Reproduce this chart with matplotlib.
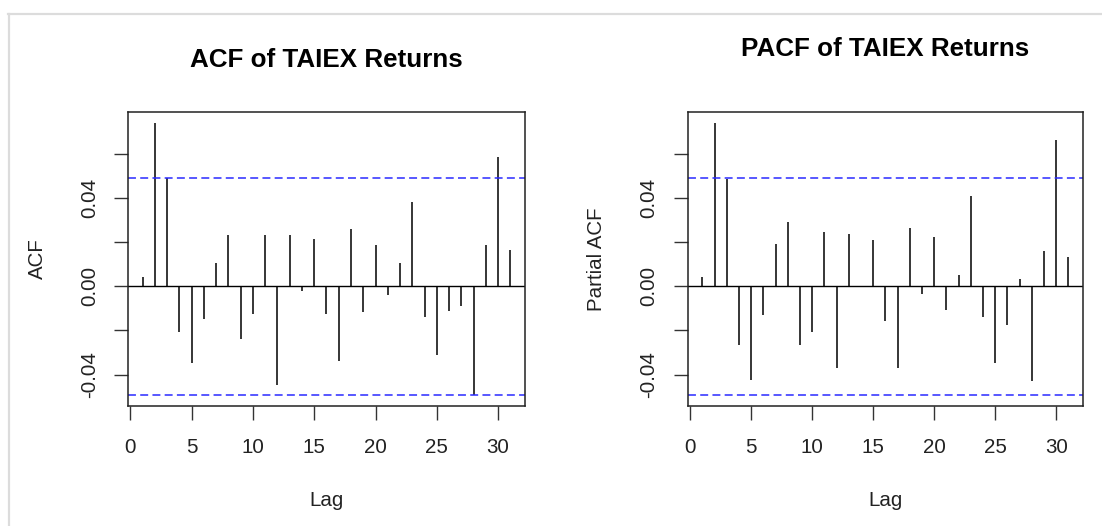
import numpy as np
import matplotlib
matplotlib.use('Agg')
import matplotlib.pyplot as plt
from matplotlib.lines import Line2D

plt.rcParams['font.family'] = ['Liberation Sans', 'DejaVu Sans']

# lags 1..31
lags = list(range(1, 32))

# sample ACF of returns
acf_vals = [0.0044, 0.0741, 0.0493, -0.0208, -0.0349, -0.0146, 0.0105, 0.0235,
            -0.0238, -0.0126, 0.0235, -0.0448, 0.0235, -0.0023, 0.0215, -0.0126,
            -0.0337, 0.0260, -0.0116, 0.0186, -0.0041, 0.0105, 0.0383, -0.0140,
            -0.0313, -0.0110, -0.0090, -0.0493, 0.0186, 0.0585, 0.0167]

# sample PACF
pacf_vals = [0.0044, 0.0741, 0.0487, -0.0268, -0.0423, -0.0132, 0.0192, 0.0290,
             -0.0268, -0.0208, 0.0248, -0.0371, 0.0236, 0.0003, 0.0212, -0.0156,
             -0.0371, 0.0266, -0.0033, 0.0224, -0.0108, 0.0051, 0.0409, -0.0140,
             -0.0347, -0.0176, 0.0032, -0.0427, 0.0162, 0.0662, 0.0131]

ci = 0.0493
titles = ['ACF of TAIEX Returns', 'PACF of TAIEX Returns']
ylabels = ['ACF', 'Partial ACF']
yticks = [-0.04, -0.02, 0.00, 0.02, 0.04, 0.06]
ytick_labels = ['-0.04', '', '0.00', '', '0.04', '']
xticks = [0, 5, 10, 15, 20, 25, 30]

W, H = 1102, 526
fig = plt.figure(figsize=(W / 100, H / 100), dpi=100)

def fx(px):
    return px / W

def fy(py):
    return 1 - py / H

# screenshot frame
fig.add_artist(Line2D([fx(8), 1], [fy(13.5), fy(13.5)], color='#dcdcdc', lw=1.6))
fig.add_artist(Line2D([fx(8.5), fx(8.5)], [fy(13.5), 0], color='#dcdcdc', lw=1.6))

boxes = [(128, 525), (687.7, 1083)]
title_y = [60, 49]
top, bottom = 112, 406

for i, vals in enumerate([acf_vals, pacf_vals]):
    x0, x1 = boxes[i]
    ax = fig.add_axes([fx(x0), fy(bottom), fx(x1 - x0), (bottom - top) / H])
    ax.vlines(lags, 0, vals, color='black', lw=1.1)
    ax.axhline(0, color='black', lw=1.0)
    for c in [ci, -ci]:
        ax.axhline(c, color='#2a2aff', lw=1.1, linestyle=(0, (5.2, 2.8)))
    lo = min(min(vals), -ci)
    hi = max(max(vals), ci)
    pad = (hi - lo) * 0.04
    ax.set_ylim(lo - pad, hi + pad)
    ax.set_xlim(1 - 30 * 0.04, 31 + 30 * 0.04)
    ax.set_xticks(xticks)
    ax.set_yticks(yticks)
    ax.set_yticklabels(ytick_labels, rotation=90, va='center')
    ax.tick_params(axis='both', length=10, width=1.0, color='#333333',
                   labelsize=14.8, colors='#222222')
    ax.tick_params(axis='x', pad=13)
    ax.tick_params(axis='y', pad=11)
    for s in ax.spines.values():
        s.set_linewidth(1.1)
        s.set_color('#222222')
    cx = (x0 + x1) / 2
    fig.text(fx(cx), fy(title_y[i]), titles[i], ha='center', va='center',
             fontsize=18.7, fontweight='bold')
    fig.text(fx(cx), fy(500), 'Lag', ha='center', va='center', fontsize=14.8,
             color='#222222')
    fig.text(fx(x0 - 91), fy(259), ylabels[i], ha='center', va='center',
             rotation=90, fontsize=14.8, color='#222222')

fig.savefig('out.png', dpi=100)
